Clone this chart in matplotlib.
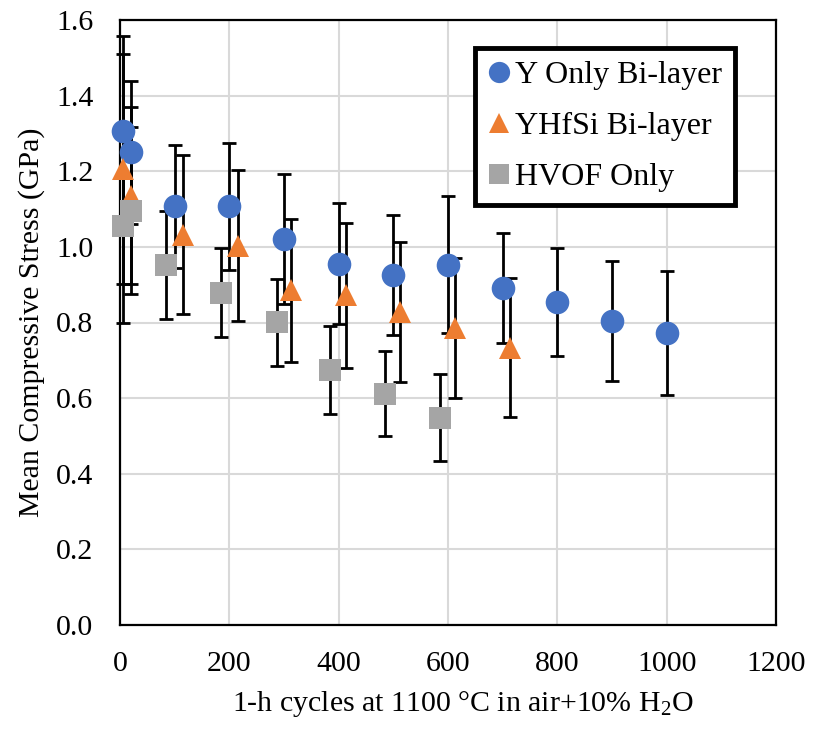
import matplotlib
matplotlib.use("Agg")
import matplotlib.pyplot as plt

# ---- data ----
y_x = [5, 20, 100, 200, 300, 400, 500, 600, 700, 800, 900, 1000]
y_mean = [1.307, 1.25, 1.107, 1.107, 1.021, 0.955, 0.926, 0.953, 0.891, 0.854, 0.803, 0.772]
y_err = [0.25, 0.19, 0.162, 0.168, 0.172, 0.16, 0.158, 0.182, 0.145, 0.142, 0.159, 0.163]

tri_x = [5, 20, 115, 215, 312, 413, 513, 613, 714]
tri_mean = [1.206, 1.135, 1.032, 1.003, 0.885, 0.872, 0.828, 0.785, 0.733]
tri_err = [0.305, 0.234, 0.21, 0.2, 0.19, 0.192, 0.186, 0.185, 0.184]

sq_x = [5, 20, 85, 185, 288, 384, 485, 585]
sq_mean = [1.056, 1.096, 0.952, 0.879, 0.801, 0.675, 0.612, 0.548]
sq_err = [0.256, 0.22, 0.144, 0.118, 0.115, 0.116, 0.113, 0.115]

labels = ["Y Only Bi-layer", "YHfSi Bi-layer", "HVOF Only"]
x_ticks = [0, 200, 400, 600, 800, 1000, 1200]
y_ticks = [0.0, 0.2, 0.4, 0.6, 0.8, 1.0, 1.2, 1.4, 1.6]

plt.rcParams['font.family'] = ['Liberation Serif', 'DejaVu Serif']
plt.rcParams['mathtext.fontset'] = 'custom'
plt.rcParams['mathtext.rm'] = 'Liberation Serif'
plt.rcParams['mathtext.it'] = 'Liberation Serif:italic'

fig = plt.figure(figsize=(8.14, 7.32), dpi=100)
ax = fig.add_axes([120/814, 1-625/732, 656/814, 605/732])

series = [
    (y_x, y_mean, y_err, 'o', '#4472C4', 17, labels[0]),
    (tri_x, tri_mean, tri_err, '^', '#ED7D31', 16, labels[1]),
    (sq_x, sq_mean, sq_err, 's', '#A5A5A5', 16, labels[2]),
]

handles = []
for i, (xs, ms_, es, mk, col, msz, lab) in enumerate(series):
    ax.errorbar(xs, ms_, yerr=es, fmt='none', ecolor='black', elinewidth=2.0,
                capsize=5, capthick=2.0, zorder=2, clip_on=False)
    h, = ax.plot(xs, ms_, linestyle='none', marker=mk, color=col, markersize=msz,
                 markeredgewidth=0, zorder=4 + i, clip_on=False, label=lab)
    handles.append(h)

ax.set_xlim(0, 1200)
ax.set_ylim(0, 1.6)
ax.set_xticks(x_ticks)
ax.set_yticks(y_ticks)
ax.set_xticklabels([str(v) for v in x_ticks])
ax.set_yticklabels([f"{v:.1f}" for v in y_ticks])
ax.tick_params(axis='both', length=0, labelsize=21.5, pad=19)
ax.grid(True, color='#D9D9D9', linewidth=1.5, zorder=0)
ax.set_axisbelow(True)
for sp in ax.spines.values():
    sp.set_linewidth(1.6)
    sp.set_color('black')
    sp.set_zorder(3)

ax.set_xlabel("1-h cycles at 1100 °C in air+10% H$_2$O", fontsize=21.5, labelpad=8)
ax.xaxis.set_label_coords(0.522, -0.105)
ax.set_ylabel("Mean Compressive Stress (GPa)", fontsize=21.5, labelpad=8)

leg = ax.legend(handles=handles, loc='upper right', bbox_to_anchor=(0.9375, 0.954),
                borderaxespad=0, fontsize=23, frameon=True, fancybox=False,
                framealpha=1.0, handlelength=0.7, handletextpad=0.15,
                borderpad=0.4, labelspacing=0.68, markerscale=0.9)
leg.get_frame().set_edgecolor('black')
leg.get_frame().set_linewidth(3.5)
leg.set_zorder(10)

fig.savefig("out.png", dpi=100)
